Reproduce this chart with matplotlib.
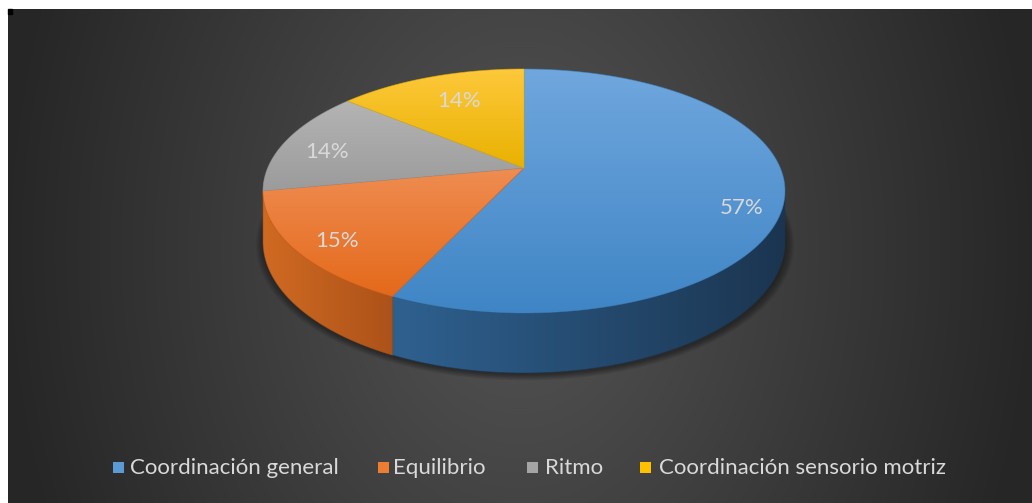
import numpy as np
import matplotlib
matplotlib.use("Agg")
import matplotlib.pyplot as plt
from matplotlib.patches import Polygon, Rectangle
from matplotlib.colors import to_rgb

# ---- data ----
categories = ["Coordinación general", "Equilibrio", "Ritmo", "Coordinación sensorio motriz"]
values = [57, 15, 14, 14]
value_labels = ["57%", "15%", "14%", "14%"]

# ---- styling ----
base_colors = ["#5B9BD5", "#ED7D31", "#A5A5A5", "#FFC000"]
top_light = ["#70a7de", "#ef8d52", "#b4b4b4", "#fec93c"]
top_dark = ["#3f85c5", "#e4691a", "#9b9b9b", "#e8b100"]
side_light = ["#2f6190", "#d06a22", "#8a8a8a", "#d9a400"]
side_dark = ["#1b3550", "#ac5219", "#6e6e6e", "#b38600"]
label_pos = [(742, 208), (337, 241), (327, 152), (459, 101)]
legend_square_x = [113, 378, 527, 640]
legend_text_x = [130, 393, 545, 659]
legend_y = 468
text_color = "#d9d9d9"
font = ["Lato", "DejaVu Sans"]

W, H = 1032, 503
fig = plt.figure(figsize=(W / 100, H / 100), dpi=100)
fig.patch.set_facecolor("white")
ax = fig.add_axes([0, 0, 1, 1])
ax.axis("off")

# ---- radial background ----
bx0, by0 = 8, 9
xs = np.arange(bx0, W) + 0.5
ys = np.arange(by0, H) + 0.5
XX, YY = np.meshgrid(xs, ys)
rr = np.clip(np.sqrt(((XX - 520) / 520) ** 2 + ((YY - 250) / 700) ** 2), 0, 1)
c_in, c_out = np.array(to_rgb("#555555")), np.array(to_rgb("#262626"))
bg = c_in + (c_out - c_in) * rr[..., None]
ax.imshow(bg, extent=(bx0, W, H, by0), interpolation="bilinear", zorder=0)
ax.add_patch(Rectangle((bx0, by0), 4, 5, color="black", zorder=1))

# ---- perspective pie geometry ----
cx, cy = 524.0, 168.0
A, B, k = 256.3, 86.0, 0.1885
D = 48.7


def proj(theta):
    u, v = np.sin(theta), np.cos(theta)
    den = 1 + k * v
    return cx + A * u / den, (cy - B * v) / den


def depth(theta):
    return D / (1 + k * np.cos(theta))


def gradient_fill(pts, c1, c2, vertical, z):
    patch = Polygon(pts, closed=True, facecolor="none", edgecolor="none",
                    transform=ax.transData, zorder=z)
    ax.add_patch(patch)
    x0, x1 = pts[:, 0].min(), pts[:, 0].max()
    y0, y1 = pts[:, 1].min(), pts[:, 1].max()
    t = np.linspace(0, 1, 256)[:, None]
    g = np.array(to_rgb(c1)) * (1 - t) + np.array(to_rgb(c2)) * t
    img = g[:, None, :] if vertical else g[None, :, :]
    im = ax.imshow(img, extent=(x0 - 1, x1 + 1, y1 + 1, y0 - 1),
                   interpolation="bilinear", zorder=z, aspect="auto")
    im.set_clip_path(patch)
    # thin outline in the fill colour to avoid hairline gaps
    ax.add_patch(Polygon(pts, closed=True, facecolor="none",
                         edgecolor=c2, lw=0.6, alpha=0.6, zorder=z))


# soft shadow under the pie
tt = np.linspace(0, 2 * np.pi, 400)
sx, sy = proj(tt)
sy = sy + depth(tt)
for i in range(10):
    g = 1 + 0.0035 * i
    pts = np.column_stack([cx + (sx - cx) * g + 1, (sy - 200) * g + 200 + 2])
    ax.add_patch(Polygon(pts, closed=True, facecolor="black", edgecolor="none",
                         alpha=0.045, zorder=2))

fracs = np.array(values, dtype=float) / np.sum(values)
bounds = np.concatenate([[0], np.cumsum(fracs)]) * 2 * np.pi
front_lo = np.arccos(-k)
front_hi = 2 * np.pi - front_lo

# side walls
for i in range(len(values)):
    lo, hi = max(bounds[i], front_lo), min(bounds[i + 1], front_hi)
    if lo >= hi:
        continue
    t = np.linspace(lo, hi, 200)
    x, y = proj(t)
    yb = y + depth(t)
    pts = np.vstack([np.column_stack([x, y]), np.column_stack([x, yb])[::-1]])
    gradient_fill(pts, side_light[i], side_dark[i], vertical=False, z=3)

# top faces
for i in range(len(values)):
    t = np.linspace(bounds[i], bounds[i + 1], 300)
    x, y = proj(t)
    pts = np.vstack([[[cx, cy]], np.column_stack([x, y])])
    gradient_fill(pts, top_light[i], top_dark[i], vertical=True, z=4)

# data labels
for (lx, ly), lab in zip(label_pos, value_labels):
    ax.text(lx, ly, lab, ha="center", va="center", color=text_color,
            fontsize=16, family=font, zorder=6)

# legend
for sqx, tx, col, name in zip(legend_square_x, legend_text_x, base_colors, categories):
    ax.add_patch(Rectangle((sqx, legend_y - 6), 11, 11, facecolor=col,
                           edgecolor="none", zorder=6))
    ax.text(tx, legend_y, name, ha="left", va="center", color=text_color,
            fontsize=16, family=font, zorder=6)

ax.set_xlim(0, W)
ax.set_ylim(H, 0)
fig.savefig("out.png", dpi=100, facecolor=fig.get_facecolor())
